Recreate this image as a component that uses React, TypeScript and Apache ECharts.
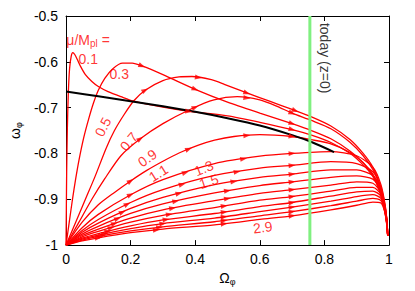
import React, { useEffect, useRef } from 'react';
import * as echarts from 'echarts';

// ---------- data ----------
const xTickLabels = ['0', '0.2', '0.4', '0.6', '0.8', '1'];
const yTickLabels = ['-1', '-0.9', '-0.8', '-0.7', '-0.6', '-0.5'];
const todayOmega = 0.755;

const mu01: [number, number][] = [
  [0, -1], [0.001, -0.92], [0.002, -0.84], [0.004, -0.75], [0.007, -0.67], [0.011, -0.615],
  [0.016, -0.588], [0.021, -0.58], [0.027, -0.584], [0.035, -0.595], [0.045, -0.61], [0.06, -0.628],
  [0.08, -0.643], [0.1, -0.654], [0.13, -0.665], [0.17, -0.676], [0.21, -0.686], [0.3, -0.699],
  [0.38, -0.708], [0.5, -0.718], [0.6, -0.732], [0.7, -0.748], [0.76, -0.76], [0.82, -0.776],
  [0.88, -0.8], [0.92, -0.825], [0.95, -0.85], [0.97, -0.88], [0.985, -0.92], [0.993, -0.955], [0.996, -0.98],
];
const mu03: [number, number][] = [
  [0, -1], [0.01, -0.95], [0.02, -0.9], [0.03, -0.855], [0.04, -0.815], [0.055, -0.765], [0.07, -0.725],
  [0.085, -0.69], [0.1, -0.662], [0.12, -0.636], [0.145, -0.615], [0.175, -0.603], [0.205, -0.603],
  [0.235, -0.609], [0.3, -0.628], [0.4, -0.66], [0.5, -0.688], [0.6, -0.712], [0.7, -0.735], [0.76, -0.75],
  [0.82, -0.768], [0.88, -0.795], [0.92, -0.82], [0.95, -0.848], [0.97, -0.878], [0.985, -0.92],
  [0.993, -0.955], [0.996, -0.98],
];
const mu05: [number, number][] = [
  [0, -1], [0.03, -0.95], [0.06, -0.9], [0.09, -0.85], [0.124, -0.789], [0.15, -0.75], [0.18, -0.715],
  [0.21, -0.685], [0.245, -0.662], [0.3, -0.641], [0.35, -0.633], [0.39, -0.632], [0.45, -0.639],
  [0.49, -0.649], [0.56, -0.668], [0.63, -0.686], [0.7, -0.704], [0.76, -0.72], [0.82, -0.74],
  [0.88, -0.77], [0.92, -0.8], [0.95, -0.83], [0.97, -0.865], [0.985, -0.91], [0.993, -0.95], [0.996, -0.98],
];
const mu07: [number, number][] = [
  [0, -1], [0.04, -0.95], [0.08, -0.9], [0.12, -0.855], [0.17, -0.805], [0.23, -0.768], [0.3, -0.735],
  [0.387, -0.703], [0.458, -0.683], [0.53, -0.676], [0.6, -0.683], [0.65, -0.696], [0.7, -0.712],
  [0.76, -0.728], [0.82, -0.746], [0.88, -0.776], [0.92, -0.805], [0.95, -0.835], [0.97, -0.868],
  [0.985, -0.912], [0.993, -0.952], [0.996, -0.98],
];
const mu09: [number, number][] = [
  [0, -1], [0.05, -0.95], [0.1, -0.912], [0.15, -0.885], [0.2, -0.86], [0.25, -0.837], [0.3, -0.817],
  [0.35, -0.799], [0.41, -0.782], [0.46, -0.771], [0.52, -0.763], [0.6, -0.759], [0.7, -0.763],
  [0.76, -0.77], [0.82, -0.779], [0.88, -0.798], [0.92, -0.82], [0.95, -0.845], [0.97, -0.874],
  [0.985, -0.915], [0.993, -0.952], [0.996, -0.98],
];

// larger mu: values on a common Omega grid
const largeMuGrid = [0, 0.05, 0.1, 0.2, 0.3, 0.46, 0.6, 0.7, 0.82, 0.9, 0.95, 0.975, 0.988, 0.994, 0.996];
const mu11 = [-1, -0.962, -0.933, -0.89, -0.857, -0.822, -0.806, -0.8, -0.796, -0.805, -0.83, -0.868, -0.912, -0.95, -0.98];
const mu13 = [-1, -0.968, -0.944, -0.907, -0.879, -0.848, -0.832, -0.826, -0.818, -0.822, -0.84, -0.873, -0.915, -0.95, -0.98];
const mu15 = [-1, -0.972, -0.952, -0.92, -0.896, -0.868, -0.852, -0.845, -0.836, -0.836, -0.848, -0.877, -0.917, -0.95, -0.98];
const mu17 = [-1, -0.976, -0.959, -0.931, -0.91, -0.886, -0.87, -0.862, -0.852, -0.849, -0.856, -0.881, -0.918, -0.951, -0.98];
const mu19 = [-1, -0.979, -0.965, -0.941, -0.923, -0.903, -0.887, -0.879, -0.869, -0.862, -0.865, -0.885, -0.92, -0.952, -0.98];
const mu21 = [-1, -0.982, -0.97, -0.95, -0.935, -0.918, -0.902, -0.894, -0.882, -0.874, -0.874, -0.889, -0.922, -0.953, -0.98];
const mu23 = [-1, -0.985, -0.975, -0.958, -0.945, -0.931, -0.916, -0.907, -0.893, -0.884, -0.882, -0.893, -0.924, -0.954, -0.98];
const mu25 = [-1, -0.987, -0.978, -0.964, -0.953, -0.941, -0.927, -0.917, -0.904, -0.894, -0.89, -0.898, -0.926, -0.955, -0.98];
const mu27 = [-1, -0.989, -0.981, -0.969, -0.96, -0.949, -0.936, -0.927, -0.914, -0.904, -0.898, -0.903, -0.928, -0.956, -0.98];
const mu29 = [-1, -0.991, -0.984, -0.973, -0.965, -0.956, -0.944, -0.936, -0.923, -0.913, -0.906, -0.908, -0.93, -0.957, -0.98];

const blackCurve: [number, number][] = [
  [0, -0.665], [0.1, -0.675], [0.2, -0.686], [0.3, -0.697], [0.4, -0.709], [0.5, -0.723],
  [0.6, -0.739], [0.7, -0.76], [0.76, -0.775], [0.83, -0.797],
];

// Omega positions of the direction arrows on each curve
const arrows01 = [0.38, 0.7];
const arrows03 = [0.235, 0.4, 0.7];
const arrows05 = [0.245, 0.41, 0.56, 0.71];
const arrows07 = [0.23, 0.4, 0.56, 0.7];
const arrows09 = [0.2, 0.38, 0.56, 0.7];
const arrows11 = [0.2, 0.37, 0.55, 0.7];
const arrows13 = [0.19, 0.36, 0.53, 0.7];
const arrows15 = [0.175, 0.35, 0.52, 0.7];
const arrows17 = [0.16, 0.34, 0.5, 0.7];
const arrows19 = [0.15, 0.33, 0.5, 0.7];
const arrows21 = [0.14, 0.32, 0.49, 0.7];
const arrows23 = [0.13, 0.31, 0.49, 0.7];
const arrows25 = [0.12, 0.3, 0.49, 0.7];
const arrows27 = [0.11, 0.29, 0.49, 0.7];
const arrows29 = [0.1, 0.28, 0.49, 0.7];

// curve labels (text, anchor in data units, rotation)
const curveLabels: { text: string; at: [number, number]; rot: number }[] = [
  { text: '0.1', at: [0.069, -0.593], rot: 0 },
  { text: '0.3', at: [0.165, -0.627], rot: 0 },
  { text: '0.5', at: [0.114, -0.742], rot: 63 },
  { text: '0.7', at: [0.195, -0.774], rot: 50 },
  { text: '0.9', at: [0.252, -0.81], rot: 35 },
  { text: '1.1', at: [0.286, -0.843], rot: 32 },
  { text: '1.3', at: [0.427, -0.832], rot: 22 },
  { text: '1.5', at: [0.442, -0.861], rot: 18 },
  { text: '2.9', at: [0.609, -0.961], rot: 7 },
];

const FONT = '"Liberation Sans", Arial, Helvetica, sans-serif';
const RED = '#ff0000';

function zipGrid(vals: number[]): [number, number][] {
  return largeMuGrid.map((x, i) => [x, vals[i]] as [number, number]);
}

function interp(c: [number, number][], x: number): number {
  for (let i = 1; i < c.length; i++) {
    if (x <= c[i][0]) {
      const [x0, y0] = c[i - 1];
      const [x1, y1] = c[i];
      const t = (x - x0) / (x1 - x0);
      return y0 + t * (y1 - y0);
    }
  }
  return c[c.length - 1][1];
}

export default function App() {
  const ref = useRef<HTMLDivElement>(null);
  useEffect(() => {
    const chart = echarts.init(ref.current!, null, { renderer: 'svg' });
    const curves: { data: [number, number][]; arrows: number[] }[] = [
      { data: mu01, arrows: arrows01 },
      { data: mu03, arrows: arrows03 },
      { data: mu05, arrows: arrows05 },
      { data: mu07, arrows: arrows07 },
      { data: mu09, arrows: arrows09 },
      { data: zipGrid(mu11), arrows: arrows11 },
      { data: zipGrid(mu13), arrows: arrows13 },
      { data: zipGrid(mu15), arrows: arrows15 },
      { data: zipGrid(mu17), arrows: arrows17 },
      { data: zipGrid(mu19), arrows: arrows19 },
      { data: zipGrid(mu21), arrows: arrows21 },
      { data: zipGrid(mu23), arrows: arrows23 },
      { data: zipGrid(mu25), arrows: arrows25 },
      { data: zipGrid(mu27), arrows: arrows27 },
      { data: zipGrid(mu29), arrows: arrows29 },
    ];

    const axisCommon = {
      type: 'value' as const,
      axisLine: { show: true, onZero: false, lineStyle: { color: '#000', width: 1 } },
      axisTick: { show: true, inside: true, length: 5, lineStyle: { color: '#000' } },
      splitLine: { show: false },
    };

    const baseSeries: any[] = curves.map((c) => ({
      type: 'line',
      data: c.data,
      showSymbol: false,
      smooth: 0.25,
      lineStyle: { color: RED, width: 1.3 },
      silent: true,
      z: 2,
    }));
    baseSeries.push({
      type: 'line',
      data: blackCurve,
      showSymbol: false,
      smooth: 0.3,
      lineStyle: { color: '#000', width: 2 },
      z: 3,
    });
    baseSeries.push({
      type: 'line',
      data: [[todayOmega, -1], [todayOmega, -0.5]],
      showSymbol: false,
      lineStyle: { color: '#80f080', width: 3 },
      z: 4,
    });

    const option: any = {
      animation: false,
      backgroundColor: '#fff',
      grid: { left: 59, right: 26, top: 16, bottom: 43 },
      xAxis: [
        {
          ...axisCommon,
          position: 'bottom',
          min: 0, max: 1, interval: 0.2,
          axisLabel: {
            color: '#000', fontSize: 14, fontFamily: FONT, margin: 7,
            formatter: (v: number) => xTickLabels[Math.round(v / 0.2)],
          },
          name: '{a|Ω}{s|φ}',
          nameLocation: 'middle',
          nameGap: 21,
          nameTextStyle: {
            rich: {
              a: { fontSize: 14, fontFamily: FONT, color: '#000' },
              s: { fontSize: 9, fontFamily: FONT, color: '#000', padding: [7, 0, 0, 0] },
            },
          },
        },
        {
          ...axisCommon,
          position: 'top',
          min: 0, max: 1, interval: 0.2,
          axisLabel: { show: false },
        },
      ],
      yAxis: [
        {
          ...axisCommon,
          position: 'left',
          min: -1, max: -0.5, interval: 0.1,
          axisLabel: {
            color: '#000', fontSize: 14, fontFamily: FONT, margin: 8,
            formatter: (v: number) => yTickLabels[Math.round((v + 1) / 0.1)],
          },
          name: '{a|ω}{s|φ}',
          nameLocation: 'middle',
          nameRotate: 90,
          nameGap: 36,
          nameTextStyle: {
            rich: {
              a: { fontSize: 14, fontFamily: FONT, color: '#000' },
              s: { fontSize: 9, fontFamily: FONT, color: '#000', padding: [7, 0, 0, 0] },
            },
          },
        },
        {
          ...axisCommon,
          position: 'right',
          min: -1, max: -0.5, interval: 0.1,
          axisLabel: { show: false },
        },
      ],
      series: baseSeries,
    };
    chart.setOption(option);

    // direction arrows
    const arrowData: any[] = [];
    curves.forEach((c) => {
      c.arrows.forEach((x) => {
        const y = interp(c.data, x);
        const y2 = interp(c.data, x + 0.004);
        const p0 = chart.convertToPixel({ xAxisIndex: 0, yAxisIndex: 0 }, [x, y]) as number[];
        const p1 = chart.convertToPixel({ xAxisIndex: 0, yAxisIndex: 0 }, [x + 0.004, y2]) as number[];
        const ang = (Math.atan2(-(p1[1] - p0[1]), p1[0] - p0[0]) * 180) / Math.PI;
        arrowData.push({ value: [x, y], symbolRotate: ang - 90 });
      });
    });

    const labelData = curveLabels.map((l) => ({
      value: l.at,
      label: { rotate: l.rot, formatter: l.text },
    }));

    chart.setOption({
      series: [
        ...baseSeries,
        {
          type: 'scatter',
          data: arrowData,
          symbol: 'triangle',
          symbolSize: [5, 7],
          itemStyle: { color: RED },
          silent: true,
          z: 5,
        },
        {
          type: 'scatter',
          data: labelData,
          symbolSize: 0,
          silent: true,
          z: 6,
          label: {
            show: true,
            position: 'inside',
            color: RED,
            fontSize: 14,
            fontFamily: FONT,
          },
        },
        {
          type: 'scatter',
          data: [{ value: [0.001, -0.552] }],
          symbolSize: 0,
          silent: true,
          z: 6,
          label: {
            show: true,
            position: 'inside',
            align: 'left',
            formatter: '{a|μ/M}{s|pl}{a| =}',
            rich: {
              a: { fontSize: 14, fontFamily: FONT, color: RED },
              s: { fontSize: 10, fontFamily: FONT, color: RED, padding: [8, 0, 0, 0] },
            },
          },
        },
        {
          type: 'scatter',
          data: [{ value: [0.802, -0.592] }],
          symbolSize: 0,
          silent: true,
          z: 6,
          label: {
            show: true,
            position: 'inside',
            rotate: -90,
            formatter: 'today (z=0)',
            color: '#000',
            fontSize: 14,
            fontFamily: FONT,
          },
        },
      ],
    });

    return () => chart.dispose();
  }, []);
  return (
    <div
      ref={ref}
      style={{ position: 'fixed', left: 0, top: 0, width: 415, height: 291, background: '#fff' }}
    />
  );
}
